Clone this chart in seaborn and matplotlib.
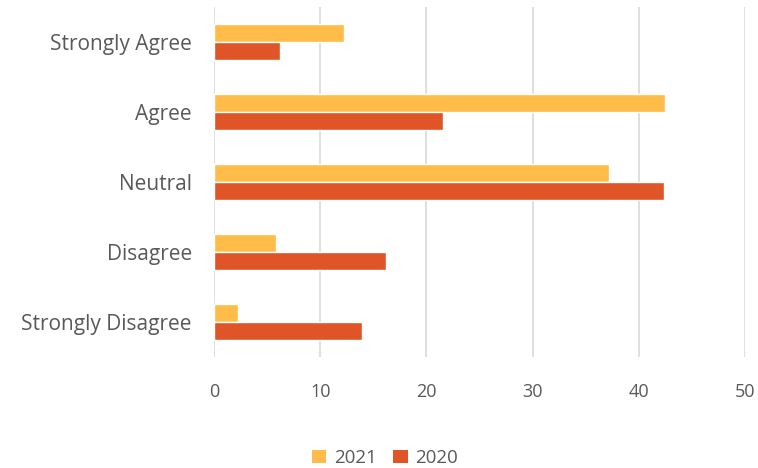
import matplotlib
matplotlib.use("Agg")
import matplotlib.pyplot as plt
import seaborn as sns
import pandas as pd
from matplotlib.patches import Patch

categories = ["Strongly Agree", "Agree", "Neutral", "Disagree", "Strongly Disagree"]
years = ["2021", "2020"]
values_2021 = [12.2, 42.5, 37.2, 5.8, 2.3]
values_2020 = [6.2, 21.6, 42.4, 16.2, 13.9]
x_ticks = [0, 10, 20, 30, 40, 50]

df = pd.DataFrame({
    "category": categories * 2,
    "year": [years[0]] * len(categories) + [years[1]] * len(categories),
    "value": values_2021 + values_2020,
})

sns.set_theme(style="white")
plt.rcParams['font.family'] = ['Open Sans', 'DejaVu Sans']

fig = plt.figure(figsize=(7.58, 4.68), dpi=100)
ax = fig.add_axes([214/758, (468-357)/468, (745-214)/758, 350/468])

palette = {"2021": "#FFBC48", "2020": "#E05527"}
sns.barplot(data=df, y="category", x="value", hue="year", order=categories,
            hue_order=years, palette=palette, orient="h", width=0.52,
            gap=0, saturation=1, ax=ax, legend=False, zorder=3)

ax.set_xlim(0, 50)
ax.set_ylim(4.5, -0.5)
ax.set_xticks(x_ticks)
ax.set_xticklabels([str(t) for t in x_ticks])
ax.xaxis.grid(True, color="#D9D9D9", linewidth=1.2, zorder=0)
ax.yaxis.grid(False)
for s in ax.spines.values():
    s.set_visible(False)
ax.set_xlabel("")
ax.set_ylabel("")
ax.tick_params(axis="x", colors="#595959", labelsize=13, pad=19, length=0)
ax.tick_params(axis="y", colors="#595959", labelsize=15, pad=16, length=0)

handles = [Patch(facecolor=palette[y], edgecolor="none", label=y) for y in years]
leg = fig.legend(handles=handles, loc="center", bbox_to_anchor=(385/758, 1 - 458/468),
                 ncol=2, frameon=False, fontsize=13.5, handlelength=0.75, handleheight=0.75,
                 handletextpad=0.4, columnspacing=0.9)
for t in leg.get_texts():
    t.set_color("#595959")

fig.savefig("out.png", dpi=100)
